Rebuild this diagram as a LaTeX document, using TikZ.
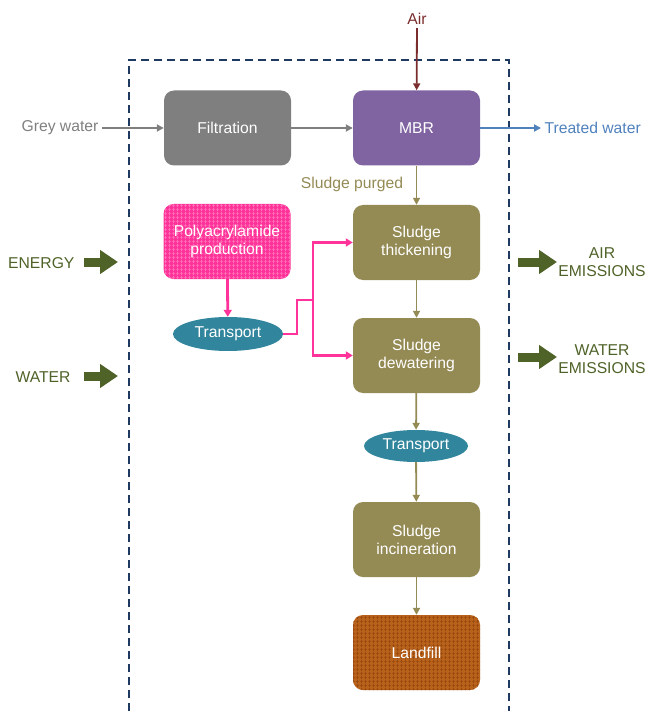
\documentclass[tikz,border=0pt]{standalone}
\usepackage{fontspec}
\setmainfont{Liberation Sans}
\usetikzlibrary{arrows.meta,shapes.geometric,patterns}

\definecolor{greyc}{HTML}{7F7F7F}
\definecolor{purpc}{HTML}{8064A2}
\definecolor{olivec}{HTML}{948A54}
\definecolor{tealc}{HTML}{31859C}
\definecolor{pinkc}{HTML}{FF3399}
\definecolor{pinkgrid}{HTML}{FF6FB5}
\definecolor{brownc}{HTML}{B8621B}
\definecolor{browngrid}{HTML}{9A4A0E}
\definecolor{greenc}{HTML}{4F6228}
\definecolor{bluec}{HTML}{4F81BD}
\definecolor{airc}{HTML}{7B2C2C}
\definecolor{frame}{HTML}{1F3A60}

% coarse hatching grid used for the textured boxes
\pgfdeclarepatternformonly{coarsegrid}{\pgfpointorigin}{\pgfqpoint{4pt}{4pt}}%
  {\pgfqpoint{4pt}{4pt}}{%
  \pgfsetlinewidth{0.9pt}%
  \pgfpathmoveto{\pgfqpoint{0pt}{2pt}}\pgfpathlineto{\pgfqpoint{4pt}{2pt}}%
  \pgfpathmoveto{\pgfqpoint{2pt}{0pt}}\pgfpathlineto{\pgfqpoint{2pt}{4pt}}%
  \pgfusepath{stroke}}

\tikzset{
  x=1pt, y=-1pt,
  every node/.style={font=\fontsize{15.7pt}{18pt}\selectfont},
  procbox/.style={rounded corners=10pt, minimum width=127pt, minimum height=75pt,
    inner sep=0pt, text=white, align=center},
  oval/.style={ellipse, fill=tealc, text=white, inner sep=0pt},
  flow/.style={line width=1.8pt, -{Triangle[length=7pt,width=7pt]}},
  pinkflow/.style={line width=2.8pt, draw=pinkc, -{Triangle[length=7pt,width=8pt]}},
  bigarrow/.style={line width=9pt, draw=greenc,
    -{Triangle[length=18pt,width=23pt]}},
  sidelabel/.style={text=greenc, align=center}
}

\begin{document}
\begin{tikzpicture}
\useasboundingbox (0,0) rectangle (647,711);

% system boundary, open at the bottom
\draw[frame, line width=1.8pt, dash pattern=on 8pt off 5pt]
  (129,711) -- (129,60) -- (509,60) -- (509,711);

% process units
\node[procbox, fill=greyc] (filt) at (227.5,128) {Filtration};
\node[procbox, fill=purpc] (mbr) at (416.5,128) {MBR};
\node[procbox, fill=pinkc, postaction={pattern=coarsegrid, pattern color=pinkgrid}]
  (poly) at (227,241.5) {Polyacrylamide\\production};
\node[procbox, fill=olivec] (thick) at (416.5,242.5) {Sludge\\thickening};
\node[procbox, fill=olivec] (dewat) at (416.5,355.5) {Sludge\\dewatering};
\node[procbox, fill=olivec] (incin) at (416.5,539.5) {Sludge\\incineration};
\node[procbox, fill=brownc, postaction={pattern=coarsegrid, pattern color=browngrid}]
  (land) at (416.5,652.5) {Landfill};

\node[oval, minimum width=110pt, minimum height=34pt] (tr1) at (228,334) {Transport};
\node[oval, minimum width=104pt, minimum height=32pt] (tr2) at (416,446) {Transport};

% inputs and outputs
\node[text=greyc] (grey) at (60,128) {Grey water};
\node[text=bluec, anchor=west] (treated) at (541,128) {Treated water};
\node[text=airc] (air) at (417,19) {Air};
\node[text=olivec] (purge) at (352,184) {Sludge purged};

% main flows
\draw[flow, greyc] (grey) -- (filt);
\draw[flow, greyc] (filt) -- (mbr);
\draw[flow, bluec] (mbr) -- (treated);
\draw[flow, airc] (air) -- (mbr);
\draw[flow, olivec] (mbr) -- (thick);
\draw[flow, olivec] (thick) -- (dewat);
\draw[flow, olivec] (dewat) -- (tr2);
\draw[flow, olivec] (tr2) -- (incin);
\draw[flow, olivec] (incin) -- (land);

% polyacrylamide supply
\coordinate (split) at (313,300);
\draw[pinkflow] (poly) -- (tr1);
\draw[line width=2.8pt, draw=pinkc] (tr1.east) -- (297,334) -- (297,300) -- (split);
\draw[pinkflow] (split) |- (thick.west);
\draw[pinkflow] (split) |- (dewat.west);

% boundary exchanges
\node[sidelabel, anchor=east] (energy) at (78,263) {ENERGY};
\node[sidelabel, anchor=east] (water) at (74,377) {WATER};
\coordinate (energyin) at (118,262);
\coordinate (waterin) at (118,376);
\draw[bigarrow] (84,262) -- (energyin);
\draw[bigarrow] (84,376) -- (waterin);

\node[sidelabel] (airem) at (602,262) {AIR\\EMISSIONS};
\node[sidelabel] (waterem) at (602,359) {WATER\\EMISSIONS};
\coordinate (airout) at (518,262);
\coordinate (waterout) at (518,357);
\draw[bigarrow] (airout) -- (557,262);
\draw[bigarrow] (waterout) -- (557,357);
\end{tikzpicture}
\end{document}
